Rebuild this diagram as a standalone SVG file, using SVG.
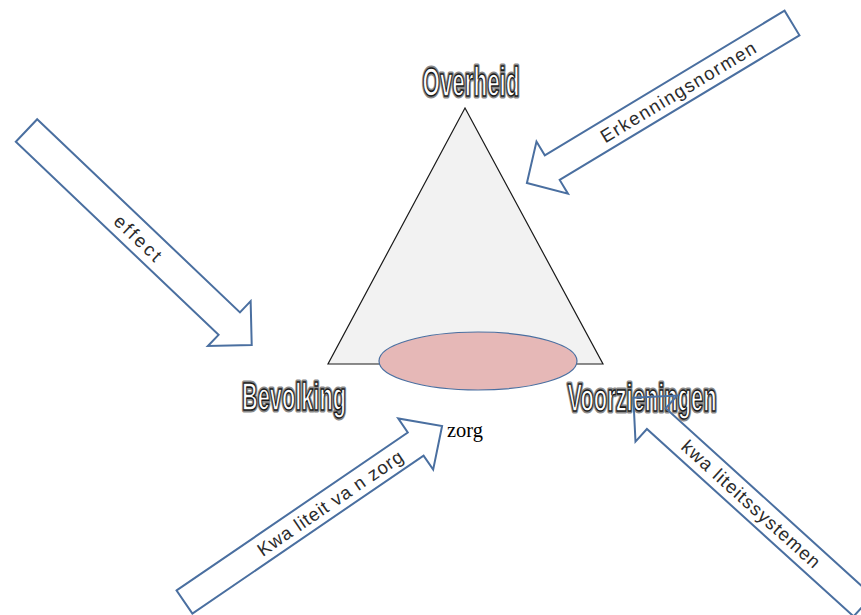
<svg xmlns="http://www.w3.org/2000/svg" width="861" height="615" viewBox="0 0 861 615">
<style>
.arrow{fill:#ffffff;stroke:#4a6fa0;stroke-width:2;stroke-linejoin:miter}
.alabel{font-family:"Liberation Sans",Arial,sans-serif;font-size:18.5px;fill:#2b2b2b;text-anchor:middle}
.wa-sh{font-family:"Liberation Sans",Arial,sans-serif;font-weight:bold;fill:none;stroke:#8a8a8a;stroke-width:5;stroke-linejoin:round}
.wa{font-family:"Liberation Sans",Arial,sans-serif;font-weight:bold;fill:#ffffff;stroke:#1a1a1a;stroke-width:1.6;stroke-linejoin:round}
</style>
<rect width="861" height="615" fill="#ffffff"/>
<g id="cone">
<polygon points="465,108 328,364 603,364" fill="#f2f2f2" stroke="#1a1a1a" stroke-width="1.2"/>
<ellipse cx="478" cy="361" rx="99" ry="29" fill="#e6b8b7" stroke="#4a6fa0" stroke-width="1.2"/>
</g>
<g id="overheid">
<text class="wa-sh" x="471" y="96" font-size="40" text-anchor="middle" textLength="97" lengthAdjust="spacingAndGlyphs">Overheid</text>
<text class="wa" x="471" y="96" font-size="40" text-anchor="middle" textLength="97" lengthAdjust="spacingAndGlyphs">Overheid</text>
</g>
<g id="bevolking">
<text class="wa-sh" x="294" y="410" font-size="38" text-anchor="middle" textLength="104" lengthAdjust="spacingAndGlyphs">Bevolking</text>
<text class="wa" x="294" y="410" font-size="38" text-anchor="middle" textLength="104" lengthAdjust="spacingAndGlyphs">Bevolking</text>
</g>
<g id="voorzieningen">
<text class="wa-sh" x="642" y="411" font-size="38" text-anchor="middle" textLength="149" lengthAdjust="spacingAndGlyphs">Voorzieningen</text>
<text class="wa" x="642" y="411" font-size="38" text-anchor="middle" textLength="149" lengthAdjust="spacingAndGlyphs">Voorzieningen</text>
</g>
<g id="zorg">
<text x="465" y="437" font-family="'Liberation Serif','Times New Roman',serif" font-size="22" fill="#000000" text-anchor="middle" textLength="36" lengthAdjust="spacingAndGlyphs">zorg</text>
</g>
<g id="connectors">
<g id="arrow-erkenningsnormen">
<polygon class="arrow" transform="translate(792,23) rotate(148.9)" points="0,-14.4 280,-14.4 280,-30.5 309.6,0 280,30.5 280,14.4 0,14.4"/>
<text class="alabel" transform="translate(678,92) rotate(-31.1)" y="6.5" textLength="178" lengthAdjust="spacing">Erkenningsnormen</text>
</g>
<g id="arrow-effect">
<polygon class="arrow" transform="translate(26.5,130.5) rotate(43.6)" points="0,-15.5 280,-15.5 280,-31 311,0 280,31 280,15.5 0,15.5"/>
<text class="alabel" transform="translate(138,238) rotate(43.6)" y="6.5" textLength="58" lengthAdjust="spacing">effect</text>
</g>
<g id="arrow-kwaliteit-van-zorg">
<polygon class="arrow" transform="translate(184.5,602) rotate(-34.35)" points="0,-14 280,-14 280,-31 312,0 280,31 280,14 0,14"/>
<text class="alabel" transform="translate(330,503) rotate(-34.35)" y="6.5" textLength="172" lengthAdjust="spacing">Kwa liteit va n zorg</text>
</g>
<g id="arrow-kwaliteitssystemen">
<polygon class="arrow" style="fill:none" transform="translate(863,606) rotate(222.2)" points="0,-14 279,-14 279,-31 310,0 279,31 279,14 0,14"/>
<text class="alabel" transform="translate(751,504) rotate(42.2)" y="6.5" textLength="180" lengthAdjust="spacing">kwa liteitssystemen</text>
</g>
</g>
</svg>
